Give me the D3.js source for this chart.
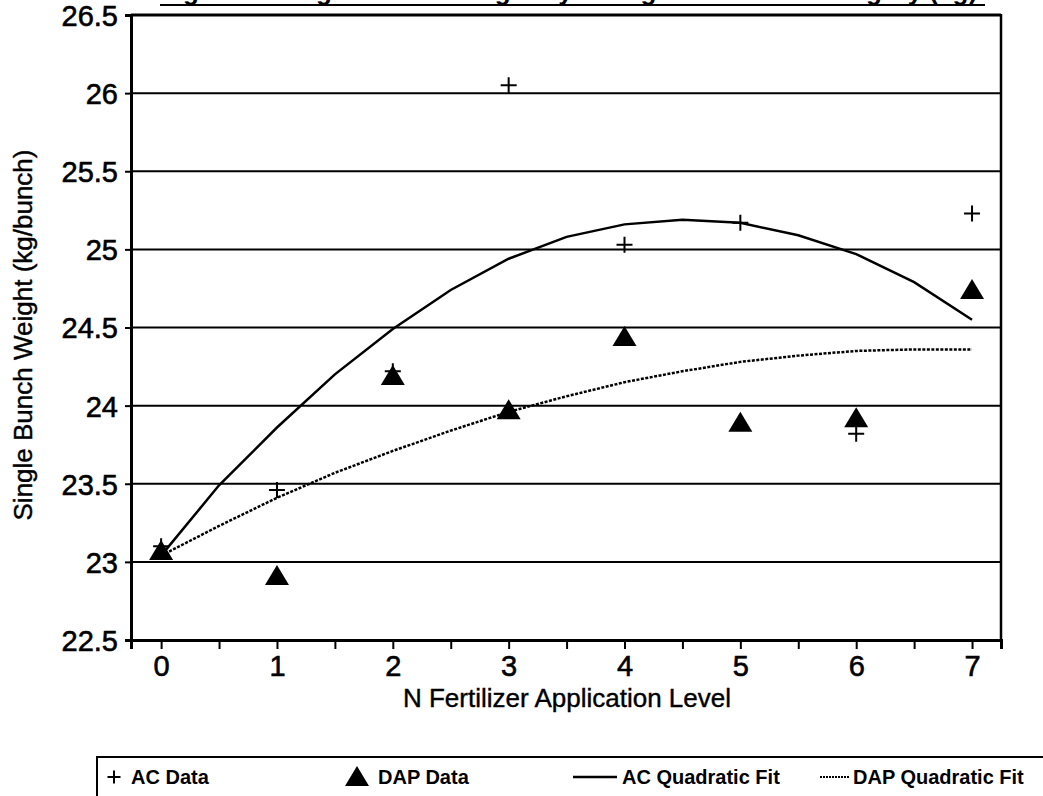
<!DOCTYPE html>
<html>
<head>
<meta charset="utf-8">
<script src="https://cdn.jsdelivr.net/npm/d3@7"></script>
<style>
  body { margin: 0; background: #fff; }
  svg { display: block; font-family: "Liberation Sans", Arial, sans-serif; }
</style>
</head>
<body>
<svg id="chart"></svg>
<script>
const levels = [0, 1, 2, 3, 4, 5, 6, 7]
const acData = [23.10, 23.46, 24.22, 26.05, 25.03, 25.17, 23.82, 25.23]
const dapData = [23.07, 22.91, 24.19, 23.97, 24.44, 23.89, 23.92, 24.74]

// fitted curves as drawn (vertices every half level)
const fitLevels = [0, 0.5, 1, 1.5, 2, 2.5, 3, 3.5, 4, 4.5, 5, 5.5, 6, 6.5, 7]
const acFit = [23.04, 23.49, 23.86, 24.20, 24.49, 24.74, 24.94, 25.08, 25.16, 25.19, 25.17, 25.09, 24.97, 24.79, 24.55]
const dapFit = [23.04, 23.23, 23.41, 23.57, 23.71, 23.84, 23.96, 24.06, 24.15, 24.22, 24.28, 24.32, 24.35, 24.36, 24.36]

const yTicks = [22.5, 23, 23.5, 24, 24.5, 25, 25.5, 26, 26.5]
const xTicks = [0, 0.5, 1, 1.5, 2, 2.5, 3, 3.5, 4, 4.5, 5, 5.5, 6, 6.5, 7]
const xLabels = [0, 1, 2, 3, 4, 5, 6, 7]

const legendItems = ["AC Data", "DAP Data", "AC Quadratic Fit", "DAP Quadratic Fit"]

const W = 1043, H = 796
const margin = { top: 15, right: 42, bottom: 156, left: 131 }

const svg = d3.select('#chart')
    .attr('width', W)
    .attr('height', H)

const x = d3.scaleLinear()
    .domain([-0.26, 7.25])
    .range([margin.left, W - margin.right])

const y = d3.scaleLinear()
    .domain([22.5, 26.5])
    .range([H - margin.bottom, margin.top])

// title, mostly cut off at the top of the page like in the scan
svg.append('text')
    .attr('x', 160)
    .attr('y', 0)
    .attr('font-size', 26)
    .attr('font-weight', 'bold')
    .text('Figure 6. Single Bunch Weight by Nitrogen Fertilizer Category (kg)')
svg.append('line')
    .attr('x1', 160).attr('x2', 985)
    .attr('y1', 5).attr('y2', 5)
    .attr('stroke', '#000').attr('stroke-width', 2)

// gridlines
svg.append('g')
    .selectAll('line')
    .data(yTicks.slice(1))
    .join('line')
        .attr('x1', x.range()[0])
        .attr('x2', x.range()[1])
        .attr('y1', d => y(d))
        .attr('y2', d => y(d))
        .attr('stroke', '#000')
        .attr('stroke-width', d => d === 26.5 ? 3 : 2)

// right border
svg.append('line')
    .attr('x1', x.range()[1]).attr('x2', x.range()[1])
    .attr('y1', y(26.5) - 1).attr('y2', y(22.5) + 1)
    .attr('stroke', '#000').attr('stroke-width', 2.5)

// axes
const yAxis = d3.axisLeft(y)
    .tickValues(yTicks)
    .tickSize(6)
    .tickPadding(7)
    .tickFormat(d3.format('~g'))

const xAxis = d3.axisBottom(x)
    .tickValues(xTicks)
    .tickSize(9)
    .tickPadding(6)
    .tickFormat(d => xLabels.includes(d) ? d : '')

const yAxisGroup = svg.append('g')
    .attr('transform', `translate(${margin.left}, 0)`)
    .call(yAxis)

const xAxisGroup = svg.append('g')
    .attr('transform', `translate(0, ${y(22.5)})`)
    .call(xAxis)

;[xAxisGroup, yAxisGroup].forEach(g => {
    g.select('.domain').attr('stroke-width', 3).attr('stroke', '#000')
    g.selectAll('.tick line').attr('stroke-width', 2).attr('stroke', '#000')
    g.selectAll('.tick text')
        .attr('font-size', 29)
        .attr('font-family', '"Liberation Sans", Arial, sans-serif')
        .attr('fill', '#000')
        .attr('stroke', '#000')
        .attr('stroke-width', 0.6)
})
yAxisGroup.selectAll('.tick text').attr('dy', '0.36em')

// axis titles
svg.append('text')
    .attr('x', 567)
    .attr('y', 707)
    .attr('text-anchor', 'middle')
    .attr('font-size', 26)
    .attr('stroke', '#000')
    .attr('stroke-width', 0.4)
    .text('N Fertilizer Application Level')

svg.append('text')
    .attr('transform', `translate(32, 335) rotate(-90)`)
    .attr('text-anchor', 'middle')
    .attr('font-size', 26)
    .attr('stroke', '#000')
    .attr('stroke-width', 0.4)
    .text('Single Bunch Weight (kg/bunch)')

// fitted curves
const line = d3.line()
    .x(d => x(d[0]))
    .y(d => y(d[1]))

svg.append('path')
    .datum(d3.zip(fitLevels, acFit))
    .attr('d', line)
    .attr('fill', 'none')
    .attr('stroke', '#000')
    .attr('stroke-width', 2.5)

svg.append('path')
    .datum(d3.zip(fitLevels, dapFit))
    .attr('d', line)
    .attr('fill', 'none')
    .attr('stroke', '#000')
    .attr('stroke-width', 2.5)
    .attr('stroke-dasharray', '3,1.5')

// markers
const plusPath = (cx, cy, r) => `M${cx - r},${cy}H${cx + r}M${cx},${cy - r}V${cy + r}`
const triPath = (cx, cy, s) => `M${cx},${cy - s * 0.55}L${cx + s * 0.6},${cy + s * 0.45}L${cx - s * 0.6},${cy + s * 0.45}Z`

svg.append('g')
    .selectAll('path')
    .data(d3.zip(levels, dapData))
    .join('path')
        .attr('d', d => triPath(x(d[0]), y(d[1]), 20))
        .attr('fill', '#000')

svg.append('g')
    .selectAll('path')
    .data(d3.zip(levels, acData))
    .join('path')
        .attr('d', d => plusPath(x(d[0]), y(d[1]), 8))
        .attr('stroke', '#000')
        .attr('stroke-width', 2)

// legend
const legend = svg.append('g')
legend.append('path')
    .attr('d', 'M97,796V757H1043')
    .attr('fill', 'none')
    .attr('stroke', '#000')
    .attr('stroke-width', 2)

const legendX = [131, 378, 622, 853]
const ly = 777
legend.append('path').attr('d', plusPath(114, ly, 6.5)).attr('stroke', '#000').attr('stroke-width', 2)
legend.append('path').attr('d', triPath(357, ly, 20)).attr('fill', '#000')
legend.append('line').attr('x1', 573).attr('x2', 617).attr('y1', ly).attr('y2', ly)
    .attr('stroke', '#000').attr('stroke-width', 2.5)
legend.append('line').attr('x1', 820).attr('x2', 849).attr('y1', ly).attr('y2', ly)
    .attr('stroke', '#000').attr('stroke-width', 2).attr('stroke-dasharray', '2,1')

legend.selectAll('text')
    .data(legendItems)
    .join('text')
        .attr('x', (d, i) => legendX[i])
        .attr('y', ly)
        .attr('dy', '0.35em')
        .attr('font-size', 20)
        .attr('font-weight', 'bold')
        .text(d => d)
</script>
</body>
</html>
